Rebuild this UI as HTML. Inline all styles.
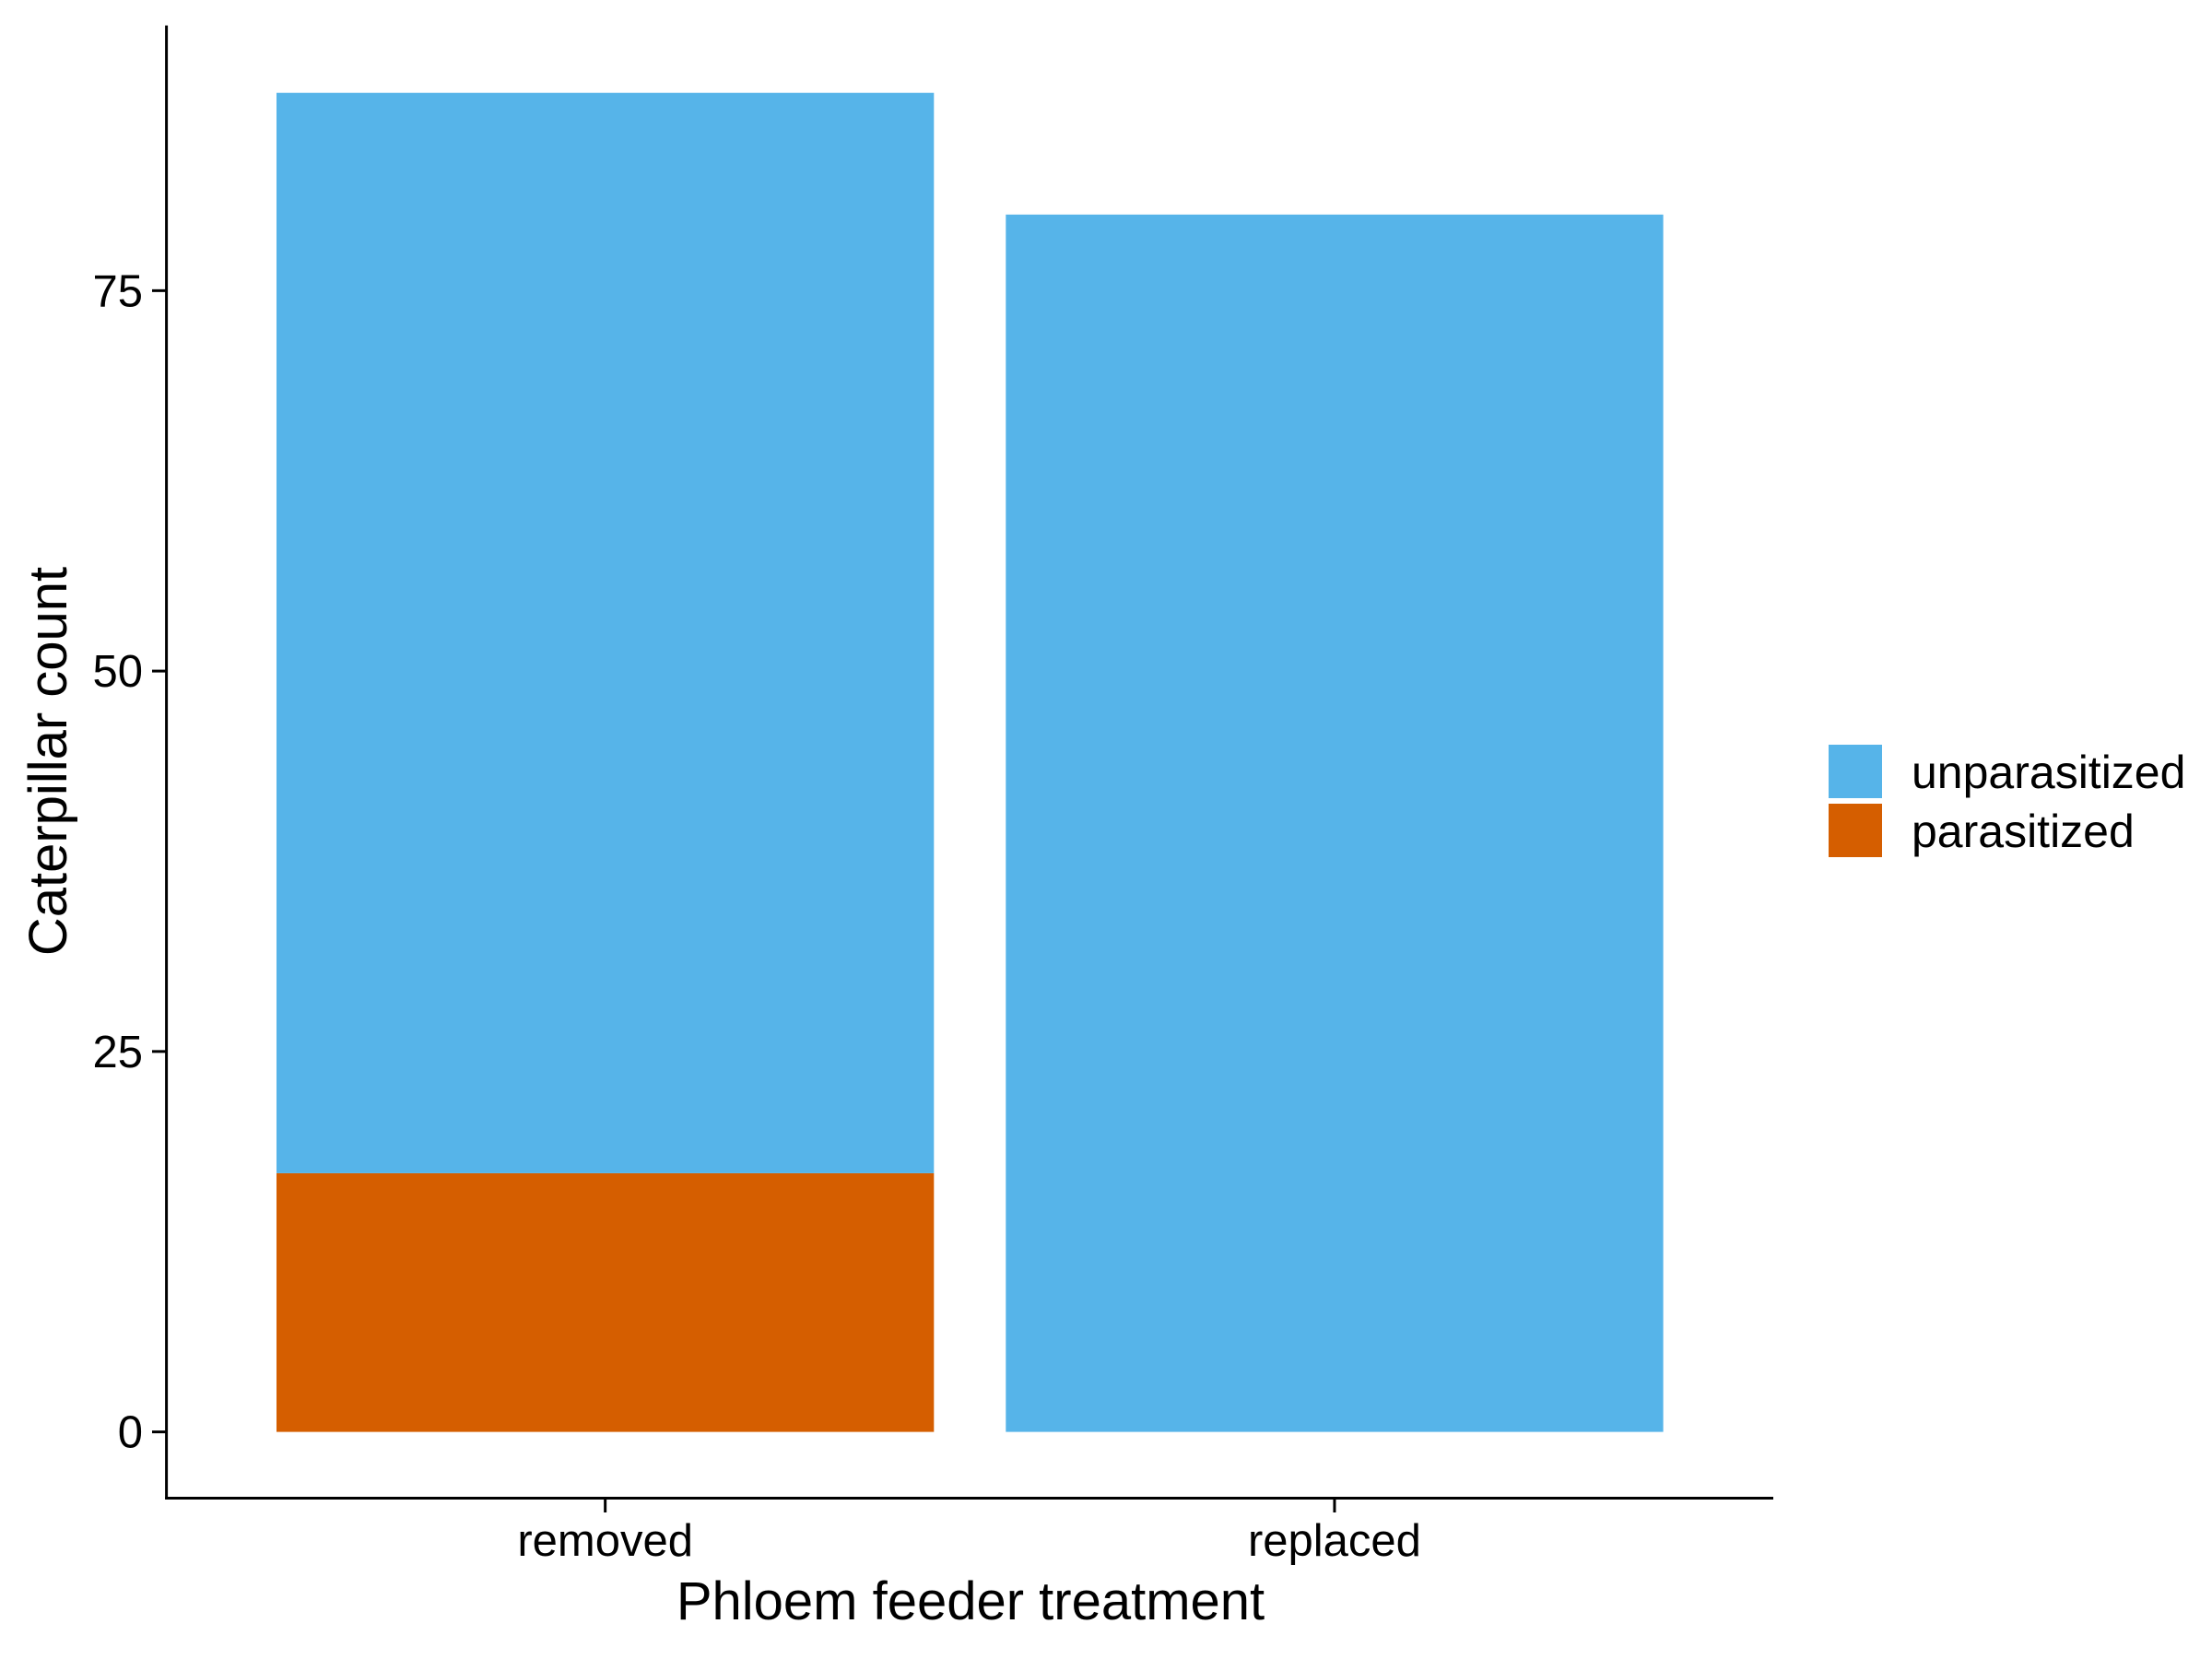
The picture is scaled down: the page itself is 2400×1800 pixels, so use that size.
<!DOCTYPE html>
<html><head><meta charset="utf-8"><style>
html,body{margin:0;padding:0;background:#fff;}
svg{display:block;font-family:"Liberation Sans",Arial,sans-serif;}
</style></head><body>
<svg id="chart" width="2400" height="1800" viewBox="0 0 2400 1800">
<rect width="2400" height="1800" fill="#fff"/>
<g id="bars"></g>
<g id="axes"></g>
<text x="1053" y="1757" font-size="58" text-anchor="middle" fill="#000">Phloem feeder treatment</text>
<text transform="translate(72,826) rotate(-90)" font-size="58" text-anchor="middle" fill="#000">Caterpillar count</text>
<g>
<rect x="1984" y="808" width="58" height="58" fill="#56B4E9"/>
<rect x="1984" y="872" width="58" height="58" fill="#D55E00"/>
<text x="2074" y="855" font-size="50" fill="#000">unparasitized</text>
<text x="2074" y="919" font-size="50" fill="#000">parasitized</text>
</g>
</svg>
<script>
const categories = ["removed", "replaced"];
const parasitized = [17, 0];
const unparasitized = [71, 80];
const yTicks = [0, 25, 50, 75];

const NS = "http://www.w3.org/2000/svg";
const y0 = 1553.6, pxPerUnit = 16.51;
const yScale = v => y0 - v * pxPerUnit;
const xLeft = 180.6, xRight = 1924, barStart = 300, step = 791.3, barW = 713.3;
const xBand = i => barStart + i * step;
const xCenter = i => xBand(i) + barW / 2;
function mk(tag, attrs, parent) {
  const el = document.createElementNS(NS, tag);
  for (const k in attrs) el.setAttribute(k, attrs[k]);
  parent.appendChild(el);
  return el;
}
const bars = document.getElementById("bars");
categories.forEach((c, i) => {
  const p = parasitized[i], u = unparasitized[i];
  if (p > 0) {
    const r = mk("rect", {x: xBand(i), y: yScale(p), width: barW, height: yScale(0) - yScale(p), fill: "#D55E00"}, bars);
    
    
  }
  const r2 = mk("rect", {x: xBand(i), y: yScale(p + u), width: barW, height: yScale(p) - yScale(p + u), fill: "#56B4E9"}, bars);
  
  
});
const axes = document.getElementById("axes");
const yl = mk("line", {x1: xLeft, y1: 27.6, x2: xLeft, y2: 1626.5, stroke: "#000", "stroke-width": 3}, axes);


const xl = mk("line", {x1: xLeft - 1.5, y1: 1625.5, x2: xRight, y2: 1625.5, stroke: "#000", "stroke-width": 3}, axes);


yTicks.forEach(t => {
  const tk = mk("line", {x1: 165, y1: yScale(t), x2: xLeft, y2: yScale(t), stroke: "#000", "stroke-width": 3}, axes);
  
  
  const lb = mk("text", {x: 155, y: yScale(t) + 17, "font-size": 49, "text-anchor": "end", fill: "#000"}, axes);
  lb.textContent = t;
  
  
});
categories.forEach((c, i) => {
  const tk = mk("line", {x1: xCenter(i), y1: 1625.5, x2: xCenter(i), y2: 1641, stroke: "#000", "stroke-width": 3}, axes);
  
  
  const lb = mk("text", {x: xCenter(i), y: 1688, "font-size": 49, "text-anchor": "middle", fill: "#000"}, axes);
  lb.textContent = c;
  
  
});
</script>
</body></html>
